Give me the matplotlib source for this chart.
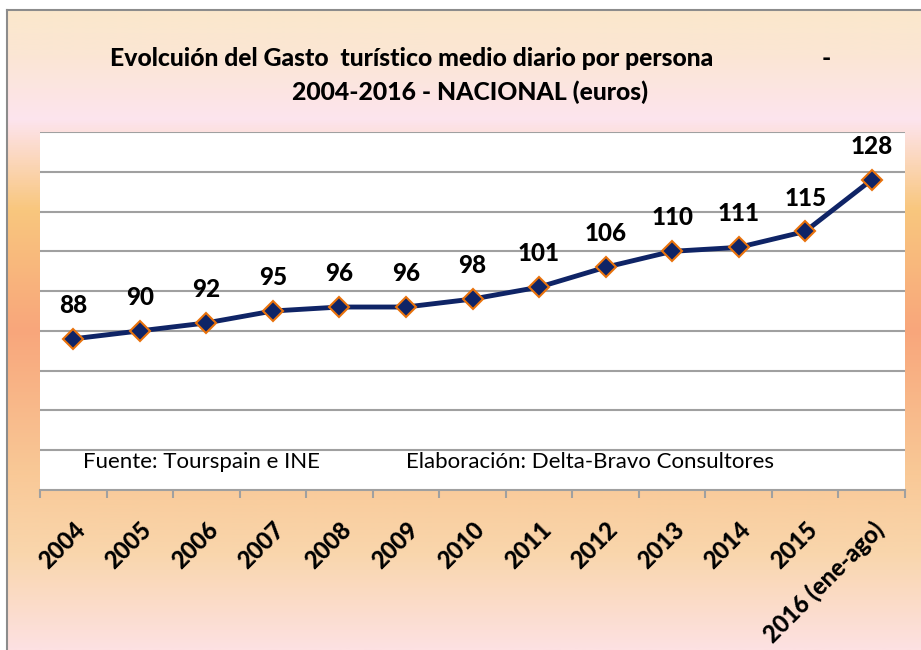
import numpy as np
import matplotlib.pyplot as plt
from matplotlib.colors import LinearSegmentedColormap

# datos
years = ["2004", "2005", "2006", "2007", "2008", "2009", "2010",
         "2011", "2012", "2013", "2014", "2015", "2016 (ene-ago)"]
gasto = [88, 90, 92, 95, 96, 96, 98, 101, 106, 110, 111, 115, 128]

plt.rcParams['font.family'] = ['Lato', 'DejaVu Sans']

fig = plt.figure(figsize=(9.21, 6.5), dpi=100)
fig.patch.set_facecolor("white")

# fondo degradado
bg = fig.add_axes([7 / 921, 0, 1 - 7 / 921, 640 / 650])
stops = [(0.0, "#FBE8CC"), (0.07, "#FBE6D4"), (0.17, "#FDE4EE"), (0.31, "#F9C77E"),
         (0.50, "#F8A67B"), (0.72, "#F9C896"), (0.85, "#F9D6AC"), (1.0, "#FDE1E2")]
cmap = LinearSegmentedColormap.from_list("fondo", stops)
grad = np.linspace(0, 1, 512).reshape(-1, 1)
bg.imshow(grad, aspect="auto", cmap=cmap, extent=[0, 1, 0, 1], origin="upper")
bg.set_xticks([])
bg.set_yticks([])
for s in ["right", "bottom"]:
    bg.spines[s].set_visible(False)
for s in ["left", "top"]:
    bg.spines[s].set_color("#8C8C8C")
    bg.spines[s].set_linewidth(1.5)

# titulo
fig.text(110 / 921, 1 - 58 / 650, "Evolcuión del Gasto  turístico medio diario por persona",
         fontsize=17.8, fontweight="black", ha="left", va="center")
fig.text(826 / 921, 1 - 58 / 650, "-", fontsize=17.8, fontweight="black", ha="center", va="center")
fig.text(470 / 921, 1 - 92 / 650, "2004-2016 - NACIONAL (euros)",
         fontsize=17.8, fontweight="black", ha="center", va="center")

ax = fig.add_axes([40 / 921, 160 / 650, 865 / 921, 358 / 650])
ax.set_facecolor("white")
x = np.arange(len(years))
ax.plot(x, gasto, color="#0F2466", lw=3.5, marker="D", markersize=10,
        markerfacecolor="#0F2466", markeredgecolor="#E8720C", markeredgewidth=1.5,
        zorder=3, clip_on=False)
for xi, v in zip(x, gasto):
    ax.text(xi, v + 5.5, str(v), ha="center", va="bottom", fontsize=17.5, fontweight="black")

ax.set_xlim(-0.5, len(years) - 0.5)
ax.set_ylim(50, 140)
ax.set_yticks(np.arange(60, 141, 10))
ax.yaxis.grid(True, color="#A0A0A0", lw=1.5)
ax.set_axisbelow(True)
ax.tick_params(axis="y", length=0, labelleft=False)
for s in ["left", "right", "top"]:
    ax.spines[s].set_visible(False)
ax.spines["bottom"].set_color("#A0A0A0")
ax.spines["bottom"].set_linewidth(1.5)

ax.set_xticks(np.arange(-0.5, len(years), 1))
ax.set_xticklabels([])
ax.tick_params(axis="x", direction="out", length=6, width=1.5, color="#A0A0A0")
ax.set_xticks(x, minor=True)
ax.set_xticklabels(years, minor=True, rotation=45, ha="right", rotation_mode="anchor",
                   fontsize=17, fontweight="black")
ax.tick_params(axis="x", which="minor", length=0, pad=20)

ax.text(0.15, 57, "Fuente: Tourspain e INE", fontsize=16, ha="left", va="center")
ax.text(5.0, 57, "Elaboración: Delta-Bravo Consultores", fontsize=16, ha="left", va="center")

plt.savefig("out.png", dpi=100)
